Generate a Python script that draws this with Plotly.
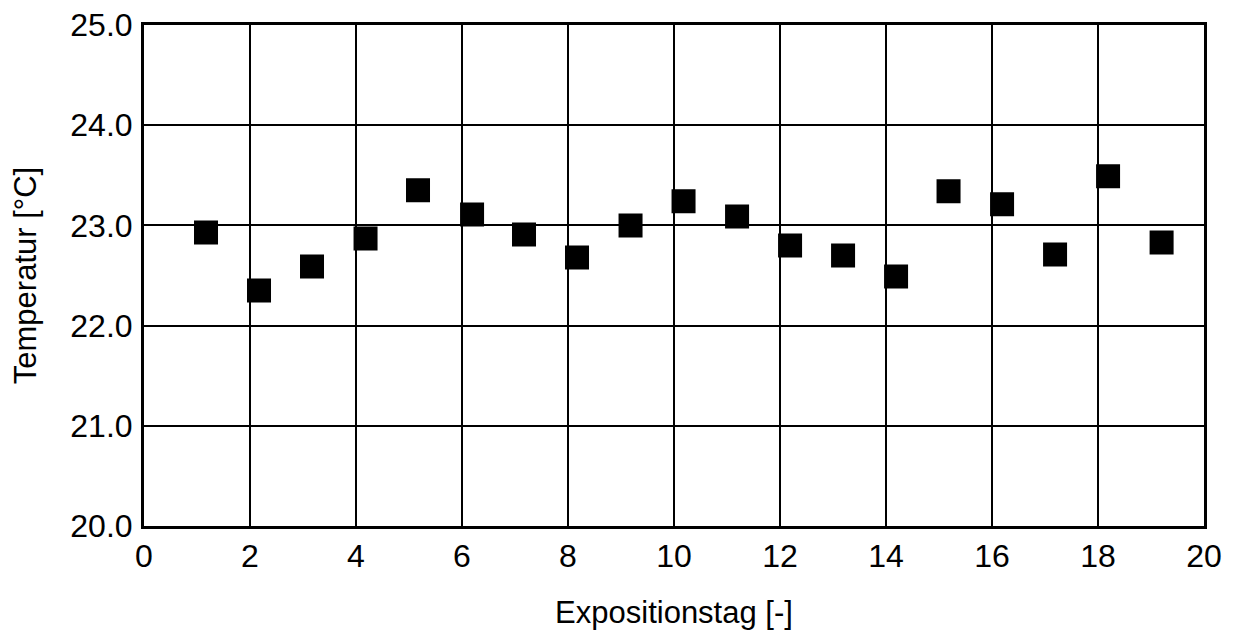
import plotly.graph_objects as go

# Expositionstag (measured day) and temperature readings
tag = [1.17, 2.17, 3.17, 4.18, 5.17, 6.19, 7.17, 8.17, 9.18, 10.18,
       11.19, 12.19, 13.19, 14.19, 15.18, 16.19, 17.19, 18.19, 19.20]
temperatur = [22.93, 22.35, 22.59, 22.87, 23.35, 23.11, 22.91, 22.68, 23.00, 23.24,
              23.09, 22.80, 22.70, 22.49, 23.34, 23.21, 22.71, 23.49, 22.83]

x_ticks = list(range(0, 21, 2))
y_ticks = [20.0, 21.0, 22.0, 23.0, 24.0, 25.0]

font = "Liberation Sans, Arial, sans-serif"

fig = go.Figure()
fig.add_trace(go.Scatter(
    x=tag, y=temperatur, mode="markers",
    marker=dict(symbol="square", size=22, color="black",
                line=dict(color="black", width=2)),
    showlegend=False,
))

# the page body adds an 8px margin, so the figure is 8px smaller than the window
fig.update_layout(
    width=1226, height=622,
    margin=dict(l=136, r=30, t=17, b=104, autoexpand=False),
    paper_bgcolor="white", plot_bgcolor="white",
    font=dict(family=font, size=31, color="black"),
)
fig.update_xaxes(
    range=[0, 20], tickvals=x_ticks, ticktext=[str(v) for v in x_ticks],
    tickfont=dict(size=32), ticklabeloverflow="allow",
    showgrid=True, gridcolor="black", gridwidth=1.5,
    showline=True, linecolor="black", linewidth=3, mirror=True,
    zeroline=False, ticks="", ticklabelstandoff=0, automargin=False,
    title=dict(text="Expositionstag [-]", standoff=34, font=dict(size=31)),
)
fig.update_yaxes(
    range=[20, 25], tickvals=y_ticks, ticktext=[f"{v:.1f}" for v in y_ticks],
    tickfont=dict(size=32), ticklabeloverflow="allow",
    showgrid=True, gridcolor="black", gridwidth=1.5,
    showline=True, linecolor="black", linewidth=3, mirror=True,
    zeroline=False, ticks="", ticklabelstandoff=2, automargin=False,
    title=dict(text="Temperatur [°C]", standoff=26, font=dict(size=31)),
)

fig.write_html("out.html")
